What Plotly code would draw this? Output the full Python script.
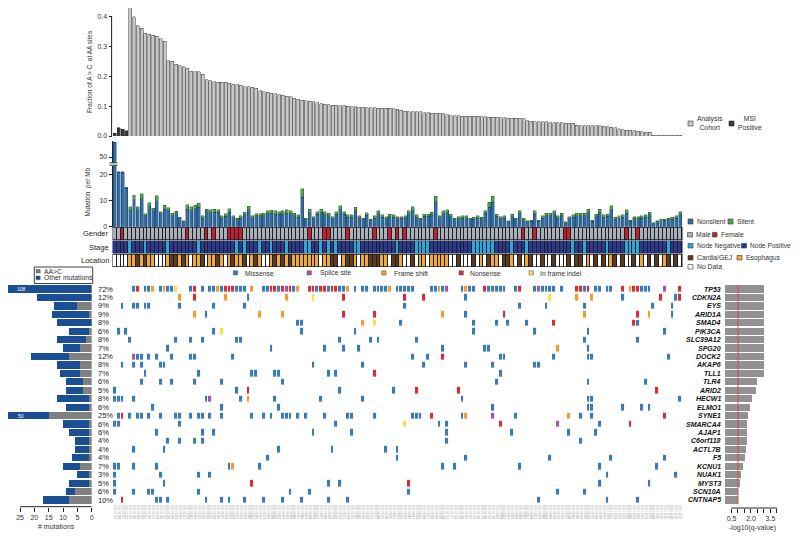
import plotly.graph_objects as go

# page body has an 8px margin: figure is placed at (8, 8) in the 800x540 window
OFF = 8
W, H = 792, 532
def fx(px): return (px - OFF) / W
def fy(py): return 1 - (py - OFF) / H

FONT = "Liberation Sans, Arial, sans-serif"
TXT = "#333333"

# ---------------- data ----------------
samples = list(range(1, 150))
sample_ids = ["ESO-%04d" % (101 + 7 * i) for i in range(149)]

msi_frac_ac = [0.010, 0.027, 0.023, 0.017]
cohort_frac_ac = [
    .430, .400, .370, .362, .345, .342, .338, .335, .326, .318,
    .252, .251, .240, .236, .232, .228, .218, .216, .215, .207,
    .188, .186, .182, .181, .180, .180, .177, .173, .172, .170,
    .166, .165, .163, .160, .152, .148, .146, .144, .141, .138,
    .136, .134, .131, .127, .123, .120, .119, .117, .115, .111,
    .109, .107, .105, .103, .103, .102, .101, .100, .099, .098,
    .097, .096, .095, .095, .094, .093, .093, .093, .093, .092,
    .089, .086, .083, .082, .082, .082, .081, .078, .078, .077,
    .077, .076, .075, .072, .068, .068, .068, .067, .067, .067,
    .066, .066, .065, .065, .063, .063, .063, .062, .062, .060,
    .060, .059, .059, .058, .051, .049, .048, .048, .047, .047,
    .045, .045, .044, .044, .043, .043, .042, .036, .035, .035,
    .035, .034, .034, .034, .033, .031, .030, .027, .025, .021,
    .020, .019, .017, .016, .014, .013, .012, .002, .002, .002,
    .002, .002, .002, .002, .002]

nonsilent_per_mb = [
    57.5, 20.7, 20.7, 14.7, 6.3, 10.2, 6.5, 10.6, 4.2, 7.7,
    6.0, 9.6, 5.0, 6.7, 6.0, 4.2, 4.9, 3.0, 1.9, 6.7,
    6.0, 6.9, 7.5, 3.2, 5.7, 5.3, 5.5, 5.5, 3.3, 4.0,
    5.6, 3.4, 2.6, 3.3, 4.6, 6.5, 3.5, 4.1, 4.2, 4.1,
    4.9, 5.2, 4.8, 4.7, 5.0, 5.2, 5.0, 4.2, 3.7, 11.2,
    2.6, 5.3, 3.1, 4.7, 5.4, 4.6, 4.2, 3.1, 4.7, 6.4,
    4.7, 3.7, 3.7, 6.0, 3.4, 2.6, 4.3, 2.3, 3.3, 4.9,
    3.6, 3.1, 3.8, 3.7, 3.1, 3.2, 3.3, 5.0, 6.1, 3.7,
    2.6, 3.9, 4.0, 4.6, 9.5, 3.4, 4.9, 5.3, 3.8, 2.6,
    3.1, 3.3, 3.4, 2.6, 2.9, 3.3, 3.0, 5.1, 7.5, 9.4,
    3.9, 3.1, 3.3, 1.9, 3.8, 2.6, 4.9, 2.6, 1.9, 2.0,
    4.8, 2.1, 3.3, 4.2, 4.1, 4.9, 3.3, 4.1, 1.5, 3.1,
    3.6, 4.1, 4.2, 4.1, 5.3, 2.0, 3.8, 5.3, 3.7, 3.9,
    6.4, 2.9, 3.3, 3.7, 5.2, 2.0, 3.1, 3.1, 3.3, 3.6,
    4.5, 1.2, 1.9, 2.3, 2.4, 2.6, 2.9, 3.3, 4.6]
silent_per_mb = [
    0.0, 0.3, 0.3, 0.3, 1.4, 1.8, 1.2, 2.0, 0.7, 1.5,
    1.0, 2.2, 0.8, 1.4, 1.2, 0.9, 1.0, 0.6, 0.4, 1.6,
    1.7, 1.3, 1.5, 0.9, 1.0, 1.1, 1.2, 1.0, 0.8, 0.9,
    1.3, 0.7, 0.6, 0.8, 1.0, 1.4, 0.7, 0.9, 0.8, 1.0,
    1.1, 1.0, 1.2, 1.0, 1.1, 1.2, 1.0, 0.9, 0.8, 3.2,
    0.6, 1.3, 0.7, 1.0, 1.2, 1.1, 0.9, 0.7, 1.0, 1.6,
    1.0, 0.8, 0.8, 1.4, 0.7, 0.6, 1.0, 0.5, 0.8, 1.1,
    0.9, 0.7, 0.9, 0.8, 0.7, 0.6, 0.8, 1.1, 1.5, 0.8,
    0.6, 0.9, 0.8, 1.0, 2.2, 0.7, 1.2, 1.1, 0.9, 0.6,
    0.7, 0.8, 0.7, 0.6, 0.7, 0.8, 0.6, 1.0, 1.8, 2.3,
    0.9, 0.7, 0.8, 0.4, 0.9, 0.6, 1.2, 0.6, 0.4, 0.5,
    1.3, 0.4, 0.8, 0.9, 1.0, 1.2, 0.8, 1.0, 0.4, 0.7,
    0.9, 1.0, 0.9, 1.0, 1.3, 0.5, 0.9, 1.3, 0.8, 0.9,
    1.6, 0.7, 0.8, 0.8, 1.2, 0.5, 0.7, 0.7, 0.8, 0.9,
    1.0, 0.3, 0.4, 0.5, 0.5, 0.6, 0.7, 0.8, 1.1]

female_samples = [3, 20, 25, 27, 31, 32, 33, 34, 52, 56, 57, 62, 69, 73, 75, 77,
                  85, 108, 111, 119, 120, 135, 138]
node_negative_samples = [5, 9, 15, 23, 33, 35, 39, 42, 46, 51, 52, 55, 57, 59, 64, 65,
                         75, 80, 81, 82, 83, 95, 96, 97, 98, 99, 100, 105, 109, 121,
                         124, 130, 135, 136, 137, 138, 146]
# W = no data, E = esophagus, C = cardia/GEJ
location_codes = ("W W W W E E C E C E  E W W W E C C E C E  W E E C W E E C E W  "
                  "E C E E C W E C E W  W E C E C E C E E E  E E E E W E E C C W  "
                  "E C C E W E E C C C  E E W C C E W W C W  E E W E E E E E W W  "
                  "C W W W C W E W C E  E W C C E W C W E C  W W C W W C W W W C  "
                  "W C C W E W C W C W  E C W C W W C W E W  C W C W E C W C W").split()

genes = ["TP53", "CDKN2A", "EYS", "ARID1A", "SMAD4", "PIK3CA", "SLC39A12", "SPG20",
         "DOCK2", "AKAP6", "TLL1", "TLR4", "ARID2", "HECW1", "ELMO1", "SYNE1",
         "SMARCA4", "AJAP1", "C6orf118", "ACTL7B", "F5", "KCNU1", "NUAK1", "MYST3",
         "SCN10A", "CNTNAP5"]
gene_pct = [72, 12, 9, 9, 8, 6, 8, 7, 12, 8, 7, 6, 5, 8, 6, 25, 6, 6, 4, 4, 4, 7, 3, 5, 6, 10]
# sample:type  (M missense, S splice site, F frame shift, N nonsense, I in frame indel)
mutation_calls = [
    "6M 7N 9M 10M 11F 13M 14F 15M 16M 17I 21M 22N 24M 26M 27M 28F 29M 30N 31N 32N 33M 34M 35M "
    "37F 40M 41M 42N 43N 44M 45N 46S 47N 48M 49F 52N 53N 54M 55N 56N 57M 58N 59N 60M 61M 62F "
    "64M 66M 67M 69M 70M 71M 72M 73F 75M 76M 77M 78M 79M 84M 85M 86F 87M 88S 92M 93F 94M 95M "
    "98N 99M 100M 101M 102M 103M 106M 107N 111M 112S 113M 114M 115M 116M 118M 122N 123N 124M "
    "125N 127M 128M 130M 131M 134N 136F 137N 138N 139M 140M 141M 145S 149N",
    "18F 22N 30F 36M 46F 53I 61N 77N 82N 93M 115I 122F 126F 134M 144N 148M 149N",
    "3M 6M 7M 9M 10M 18M 27M 35M 77M 107M 114M 124M 142M 147M",
    "22F 25M 39F 45F 61N 69N 87F 93M 103N 124F 138N 141F 147M",
    "49M 50M 66F 69I 76M 95M 101M 104M 109M 116N 137N 138M",
    "2M 4M 27M 29I 50M 64M 95M 111M 125M 145M",
    "5M 17M 21M 24M 33M 34M 60M 68M 70M 80M 124M 138M",
    "15M 42M 56M 61M 65M 87M 98M 99M 117F 125M",
    "6S 7M 8M 10M 12M 16M 21M 22M 32M 79M 83M 87N 102M 103M 116M 125M 126M 146M",
    "3M 6M 8M 13M 14M 53M 66M 82M 93M 100M 111M 112M",
    "9M 23M 37M 38M 43M 44M 57M 59M 69N 102M",
    "8M 13M 16M 22M 29M 45M 101M 125M 140M",
    "1M 33M 36N 60M 74M 80N 91N 143N",
    "1M 2M 3M 6M 25M 26S 34M 36F 43M 55M 66M 92M 125M 126M 149M",
    "11M 29M 44M 100M 125M 126M 134M 139M 141M",
    "2M 3N 5M 7M 8M 10M 13M 17M 18M 21M 23M 24M 26M 29M 37M 40M 42M 45M 46M 47M 49M 51M "
    "56M 62M 63M 69M 79M 80M 81M 84N 92M 93F 100S 106M 120F 123M 126M 145N",
    "1M 2M 18M 59M 77I 86M 88M 102N 117S 128M 136N",
    "12M 24M 27M 53M 63M 88M 105M 120M 127M",
    "15M 18M 22M 24M 88M 123M",
    "6M 14M 44M 58M 72M 75M",
    "41M 75M 93M 115M 131M 145M",
    "1M 2M 6M 12M 31M 32F 39M 87M 90M 107M 128M 143M",
    "1M 13M 23M 26M 130M 148M",
    "1M 14M 37N 57M 60M 78N 128M 141M",
    "1M 6M 10M 11M 23M 47M 52M 78M 117M 124M",
    "3N 12M 13M 15M 25M 29M 31M 35M 40M 45M 50M 57M 62M 112M 130M 138M",
]
aac_counts = [0, 0, 5, 1, 0, 1, 2, 4, 8, 4, 4, 3, 3, 1, 1, 15, 1, 1, 1, 1, 1, 4, 1, 1, 6, 8]
other_counts = [108, 19, 8, 13, 12, 7, 10, 6, 13, 8, 7, 6, 6, 11, 8, 35, 9, 7, 5, 5, 6, 6, 4, 7, 3, 9]
neg_log10_q = [3.0, 3.0, 3.0, 3.0, 3.0, 3.0, 3.0, 3.0, 3.0, 3.0, 3.0, 2.44, 2.36, 2.1, 1.92,
               1.75, 1.72, 1.72, 1.72, 1.59, 1.54, 1.41, 1.21, 1.15, 1.03, 0.99]

# ---------------- colours ----------------
C_COHORT, C_MSI = "#c8c8c8", "#3a3a3a"
C_NONSIL, C_SIL = "#2f6fa8", "#4fa552"
C_MALE, C_FEMALE = "#aab1bd", "#c41f2f"
C_NNEG, C_NPOS = "#27a9e1", "#2a3990"
C_CARDIA, C_ESO, C_NODATA = "#5d3b1c", "#f2a93b", "#ffffff"
MUT_COL = {"M": "#3a7bb5", "S": "#9b5aa6", "F": "#f39c34", "N": "#d52f36", "I": "#f3e24a"}
MUT_CODE = {"M": 1, "S": 2, "F": 3, "N": 4, "I": 5}
C_OTHER, C_AAC = "#1a4f96", "#808080"
C_Q = "#929292"

fig = go.Figure()

# top panel: fraction A>C
fig.add_trace(go.Bar(x=samples[:4], y=msi_frac_ac, xaxis="x", yaxis="y", width=0.78,
                     marker=dict(color=C_MSI, line=dict(color="#222", width=0.5))))
fig.add_trace(go.Bar(x=samples[4:], y=cohort_frac_ac, xaxis="x", yaxis="y", width=0.78,
                     marker=dict(color=C_COHORT, line=dict(color="#3a3a3a", width=0.5))))

# mutation rate (broken axis: lower y2, upper y3)
for xa, ya in (("x2", "y2"), ("x3", "y3")):
    fig.add_trace(go.Bar(x=samples, y=nonsilent_per_mb, xaxis=xa, yaxis=ya, width=0.78,
                         marker=dict(color=C_NONSIL, line=dict(color="#1f3550", width=0.4))))
    fig.add_trace(go.Bar(x=samples, y=silent_per_mb, xaxis=xa, yaxis=ya, width=0.78,
                         marker=dict(color=C_SIL, line=dict(color="#1f3f22", width=0.4))))

# clinical rows
gender_z = [[1 if s in female_samples else 0 for s in samples]]
stage_z = [[1 if s in node_negative_samples else 0 for s in samples]]
loc_map = {"W": 0, "E": 1, "C": 2}
loc_z = [[loc_map[c] for c in location_codes]]
fig.add_trace(go.Heatmap(z=gender_z, x=samples, y=[0], xaxis="x4", yaxis="y4", zmin=0, zmax=1,
                         colorscale=[[0, C_MALE], [0.5, C_MALE], [0.5, C_FEMALE], [1, C_FEMALE]],
                         showscale=False, xgap=1, hoverinfo="skip"))
fig.add_trace(go.Heatmap(z=stage_z, x=samples, y=[0], xaxis="x5", yaxis="y5", zmin=0, zmax=1,
                         colorscale=[[0, C_NPOS], [0.5, C_NPOS], [0.5, C_NNEG], [1, C_NNEG]],
                         showscale=False, xgap=1, hoverinfo="skip"))
fig.add_trace(go.Heatmap(z=loc_z, x=samples[:len(loc_z[0])], y=[0], xaxis="x6", yaxis="y6", zmin=0, zmax=2,
                         colorscale=[[0, C_NODATA], [1/3, C_NODATA], [1/3, C_ESO], [2/3, C_ESO],
                                     [2/3, C_CARDIA], [1, C_CARDIA]],
                         showscale=False, xgap=1, hoverinfo="skip"))

# mutation matrix
mat = [[None] * len(samples) for _ in genes]
for gi, calls in enumerate(mutation_calls):
    for tok in calls.split():
        mat[gi][int(tok[:-1]) - 1] = MUT_CODE[tok[-1]]
order = ["M", "S", "F", "N", "I"]
cs = []
for k, t in enumerate(order):
    cs += [[k / 5, MUT_COL[t]], [(k + 1) / 5, MUT_COL[t]]]
fig.add_trace(go.Heatmap(z=mat, x=samples, y=list(range(len(genes))), xaxis="x7", yaxis="y7",
                         zmin=0.5, zmax=5.5, colorscale=cs, showscale=False,
                         xgap=0.9, ygap=2.2, hoverinfo="skip"))

# left bars
rows = list(range(len(genes)))
fig.add_trace(go.Bar(y=rows, x=aac_counts, orientation="h", xaxis="x8", yaxis="y8", width=0.86,
                     marker=dict(color=C_AAC, line=dict(width=0))))
fig.add_trace(go.Bar(y=rows, x=other_counts, orientation="h", xaxis="x8", yaxis="y8", width=0.86,
                     marker=dict(color=C_OTHER, line=dict(width=0))))

# right bars
fig.add_trace(go.Bar(y=rows, x=neg_log10_q, orientation="h", xaxis="x9", yaxis="y9", width=0.86,
                     marker=dict(color=C_Q, line=dict(width=0))))

# ---------------- axes ----------------
X0, X1 = fx(113), fx(682)
tickf = dict(size=7, color=TXT, family=FONT)
hid = dict(visible=False, showgrid=False, zeroline=False)
lay = dict(
    xaxis=dict(domain=[X0, X1], range=[0.5, 149.5], anchor="y", **hid),
    yaxis=dict(domain=[fy(136), fy(8)], range=[0, (136 - 8) / 298.0], anchor="free", position=fx(111.6),
               tickvals=[0, .1, .2, .3, .4], ticktext=["0.0", "0.1", "0.2", "0.3", "0.4"],
               ticks="outside", ticklen=3, tickcolor="#222", showgrid=False, zeroline=False,
               showline=False, tickfont=tickf),
    xaxis2=dict(domain=[X0, X1], range=[0.5, 149.5], anchor="y2", **hid),
    yaxis2=dict(domain=[fy(226.7), fy(165.5)], range=[0, 23.36], anchor="free", position=fx(111.6),
                tickvals=[0, 10, 20], ticks="outside", ticklen=3, tickcolor="#222",
                showline=True, linecolor="#222", linewidth=1, showgrid=False, zeroline=False,
                tickfont=tickf),
    xaxis3=dict(domain=[X0, X1], range=[0.5, 149.5], anchor="y3", **hid),
    yaxis3=dict(domain=[fy(162.5), fy(141)], range=[47.25, 58], anchor="free", position=fx(111.6),
                tickvals=[50], ticks="outside", ticklen=3, tickcolor="#222",
                showline=True, linecolor="#222", linewidth=1, showgrid=False, zeroline=False,
                tickfont=tickf),
    xaxis4=dict(domain=[X0, X1], range=[0.5, 149.5], anchor="y4", **hid),
    yaxis4=dict(domain=[fy(239.5), fy(227.5)], range=[-0.5, 0.5], anchor="x4", **hid),
    xaxis5=dict(domain=[X0, X1], range=[0.5, 149.5], anchor="y5", **hid),
    yaxis5=dict(domain=[fy(253), fy(241)], range=[-0.5, 0.5], anchor="x5", **hid),
    xaxis6=dict(domain=[X0, X1], range=[0.5, 149.5], anchor="y6", **hid),
    yaxis6=dict(domain=[fy(266.5), fy(254.5)], range=[-0.5, 0.5], anchor="x6", **hid),
    xaxis7=dict(domain=[X0, X1], range=[0.5, 149.5], anchor="y7", tickvals=samples,
                ticktext=sample_ids, tickangle=90, ticks="", showgrid=False, zeroline=False,
                showline=False, tickfont=dict(size=3, color="#9a9a9a", family=FONT)),
    yaxis7=dict(domain=[fy(504.2), fy(284.8)], range=[25.5, -0.5], anchor="x7", **hid),
    xaxis8=dict(domain=[fx(8), fx(91.7)], range=[(91.7 - 8) / 2.867, 0], anchor="y8",
                tickvals=[0, 5, 10, 15, 20, 25], ticks="outside", ticklen=4, tickcolor="#222",
                showline=False, showgrid=False, zeroline=False, tickfont=tickf),
    yaxis8=dict(domain=[fy(506.7), fy(284.8)], range=[25.79, -0.5], anchor="x8", **hid),
    xaxis9=dict(domain=[fx(725), fx(781)], range=[0, 4.31], anchor="y9",
                tickvals=[0.5, 1.0, 1.5, 2.0, 2.5, 3.0, 3.5, 4.0],
                ticktext=["0.5", "", "", "2.0", "", "", "3.5", ""],
                ticks="outside", ticklen=4, tickcolor="#222",
                showline=False, showgrid=False, zeroline=False, tickfont=tickf),
    yaxis9=dict(domain=[fy(508), fy(284.8)], range=[25.95, -0.5], anchor="x9", **hid),
)

shapes = []
def rect(x0, y0, x1, y1, fill, line="#444", lw=0.6, layer="above"):
    shapes.append(dict(type="rect", xref="paper", yref="paper", x0=fx(x0), x1=fx(x1),
                       y0=fy(y1), y1=fy(y0), fillcolor=fill, layer=layer,
                       line=dict(color=line, width=lw)))
def hline(x0, x1, y, color="#222", w=1):
    shapes.append(dict(type="line", xref="paper", yref="paper", x0=fx(x0), x1=fx(x1),
                       y0=fy(y), y1=fy(y), line=dict(color=color, width=w)))

# backgrounds (borders) behind clinical rows
for top, bot in ((227.5, 239.5), (241, 253), (254.5, 266.5)):
    rect(112.5, top - 0.5, 682.5, bot + 0.5, "#1e1e1e", line="#1e1e1e", lw=0, layer="below")

# top panel axis line (0 to 0.4)
shapes.append(dict(type="line", xref="paper", yref="y", x0=fx(111.6), x1=fx(111.6), y0=0, y1=0.4,
                   line=dict(color="#222", width=1)))
# broken axis marks
hline(109.5, 117.5, 162.8, w=0.9)
hline(109.5, 117.5, 165.2, w=0.9)
# left bar axis line
shapes.append(dict(type="line", xref="x8", yref="paper", x0=0, x1=25, y0=fy(506.7), y1=fy(506.7),
                   line=dict(color="#222", width=1)))
# right bar axis line
shapes.append(dict(type="line", xref="x9", yref="paper", x0=0.5, x1=4.0, y0=fy(508), y1=fy(508),
                   line=dict(color="#222", width=1)))
# q = 0.1 line
shapes.append(dict(type="line", xref="x9", yref="paper", x0=1.0, x1=1.0, y0=fy(504.2), y1=fy(284.8),
                   line=dict(color="rgba(215,70,70,0.75)", width=1.2)))

ann = []
def text(x, y, s, size=6.8, xanchor="left", color=TXT, angle=0, yanchor="middle"):
    ann.append(dict(x=fx(x), y=fy(y), xref="paper", yref="paper", text=s, showarrow=False,
                    xanchor=xanchor, yanchor=yanchor, textangle=angle,
                    font=dict(size=size, color=color, family=FONT)))

# legends (right side)
rect(688, 121, 693, 126, C_COHORT, line="#333")
text(695, 123.5, "Analysis<br>Cohort")
rect(729, 121, 734, 126, C_MSI, line="#333")
text(736, 123.5, "MSI<br>Positive")
rect(688, 219, 693, 224, C_NONSIL, line="#333")
text(694.5, 221.5, "Nonsilent")
rect(728, 219, 733, 224, C_SIL, line="#333")
text(734.5, 221.5, "Silent")
rect(687.5, 232.5, 692.5, 237, C_MALE, line="#333")
text(694, 234.7, "Male")
rect(712.5, 232.5, 717, 237, C_FEMALE, line="#333")
text(718.5, 234.7, "Female")
rect(688, 243.5, 693, 248, C_NNEG, line="#333")
text(694.5, 245.8, "Node Negative", size=6.6)
rect(741.5, 243.5, 746.5, 248, C_NPOS, line="#333")
text(748, 245.8, "Node Positive", size=6.6)
rect(688, 255.5, 693, 260, C_CARDIA, line="#333")
text(694.5, 257.8, "Cardia/GEJ")
rect(737, 255.5, 742, 260, C_ESO, line="#333")
text(743.5, 257.8, "Esophagus")
rect(688, 264.5, 693, 269, C_NODATA, line="#333")
text(694.5, 266.8, "No Data")

# mutation type legend
for xs, xt, t, lab in ((233.3, 243.3, "M", "Missense"), (307, 317.5, "S", "Splice site"),
                       (381.7, 391.7, "F", "Frame shift"), (459, 468.3, "N", "Nonsense"),
                       (529, 538.3, "I", "In frame indel")):
    rect(xs, 270.8, xs + 4.4, 275, MUT_COL[t], line="#555", lw=0.5)
    text(xt, 273, lab)

# left legend box
rect(34.3, 267, 92.7, 283.5, "rgba(0,0,0,0)", line="#111", lw=0.8)
rect(36, 269.3, 40.2, 273, C_AAC, line="#444", lw=0.4)
text(42, 271.2, "AA>C")
rect(36, 276, 40.2, 279.7, C_OTHER, line="#444", lw=0.4)
text(42, 277.9, "Other mutations")

# row labels
text(110.8, 233.5, "Gender", size=7.5, xanchor="right", color="#222222")
text(110.8, 247, "Stage", size=7.5, xanchor="right", color="#222222")
text(110.8, 260.5, "Location", size=7.5, xanchor="right", color="#222222")

# axis titles
text(89.5, 71.5, "Fraction of A > C  at AA sites", size=6.5, xanchor="center", angle=-90)
text(87.5, 192, "Mutation  per Mb", size=6.5, xanchor="center", angle=-90)
text(56, 526.5, "# mutations", size=7, xanchor="center")
text(752.5, 527.5, "-log10(q-value)", size=7, xanchor="center")

# gene rows: percentages and names
for i, g in enumerate(genes):
    ann.append(dict(x=fx(95.5), y=i, xref="paper", yref="y8", text=f"{gene_pct[i]}%",
                    showarrow=False, xanchor="left", yanchor="middle",
                    font=dict(size=7.5, color="#222", family=FONT)))
    ann.append(dict(x=fx(722.5), y=i, xref="paper", yref="y9", text=f"<b><i>{g}</i></b>",
                    showarrow=False, xanchor="right", yanchor="middle",
                    font=dict(size=7, color="#111", family=FONT)))

# totals for clipped bars
for i in (0, 15):
    tot = aac_counts[i] + other_counts[i]
    ann.append(dict(x=24.6, y=i, xref="x8", yref="y8", text=str(tot), showarrow=False,
                    xanchor="center", yanchor="middle",
                    font=dict(size=5, color="white", family=FONT)))

fig.update_layout(
    **lay, shapes=shapes, annotations=ann, barmode="stack", showlegend=False,
    width=W, height=H, autosize=False, margin=dict(l=0, r=0, t=0, b=0),
    paper_bgcolor="white", plot_bgcolor="rgba(0,0,0,0)", template="none",
    font=dict(family=FONT, color=TXT),
)
fig.write_html("out.html")
